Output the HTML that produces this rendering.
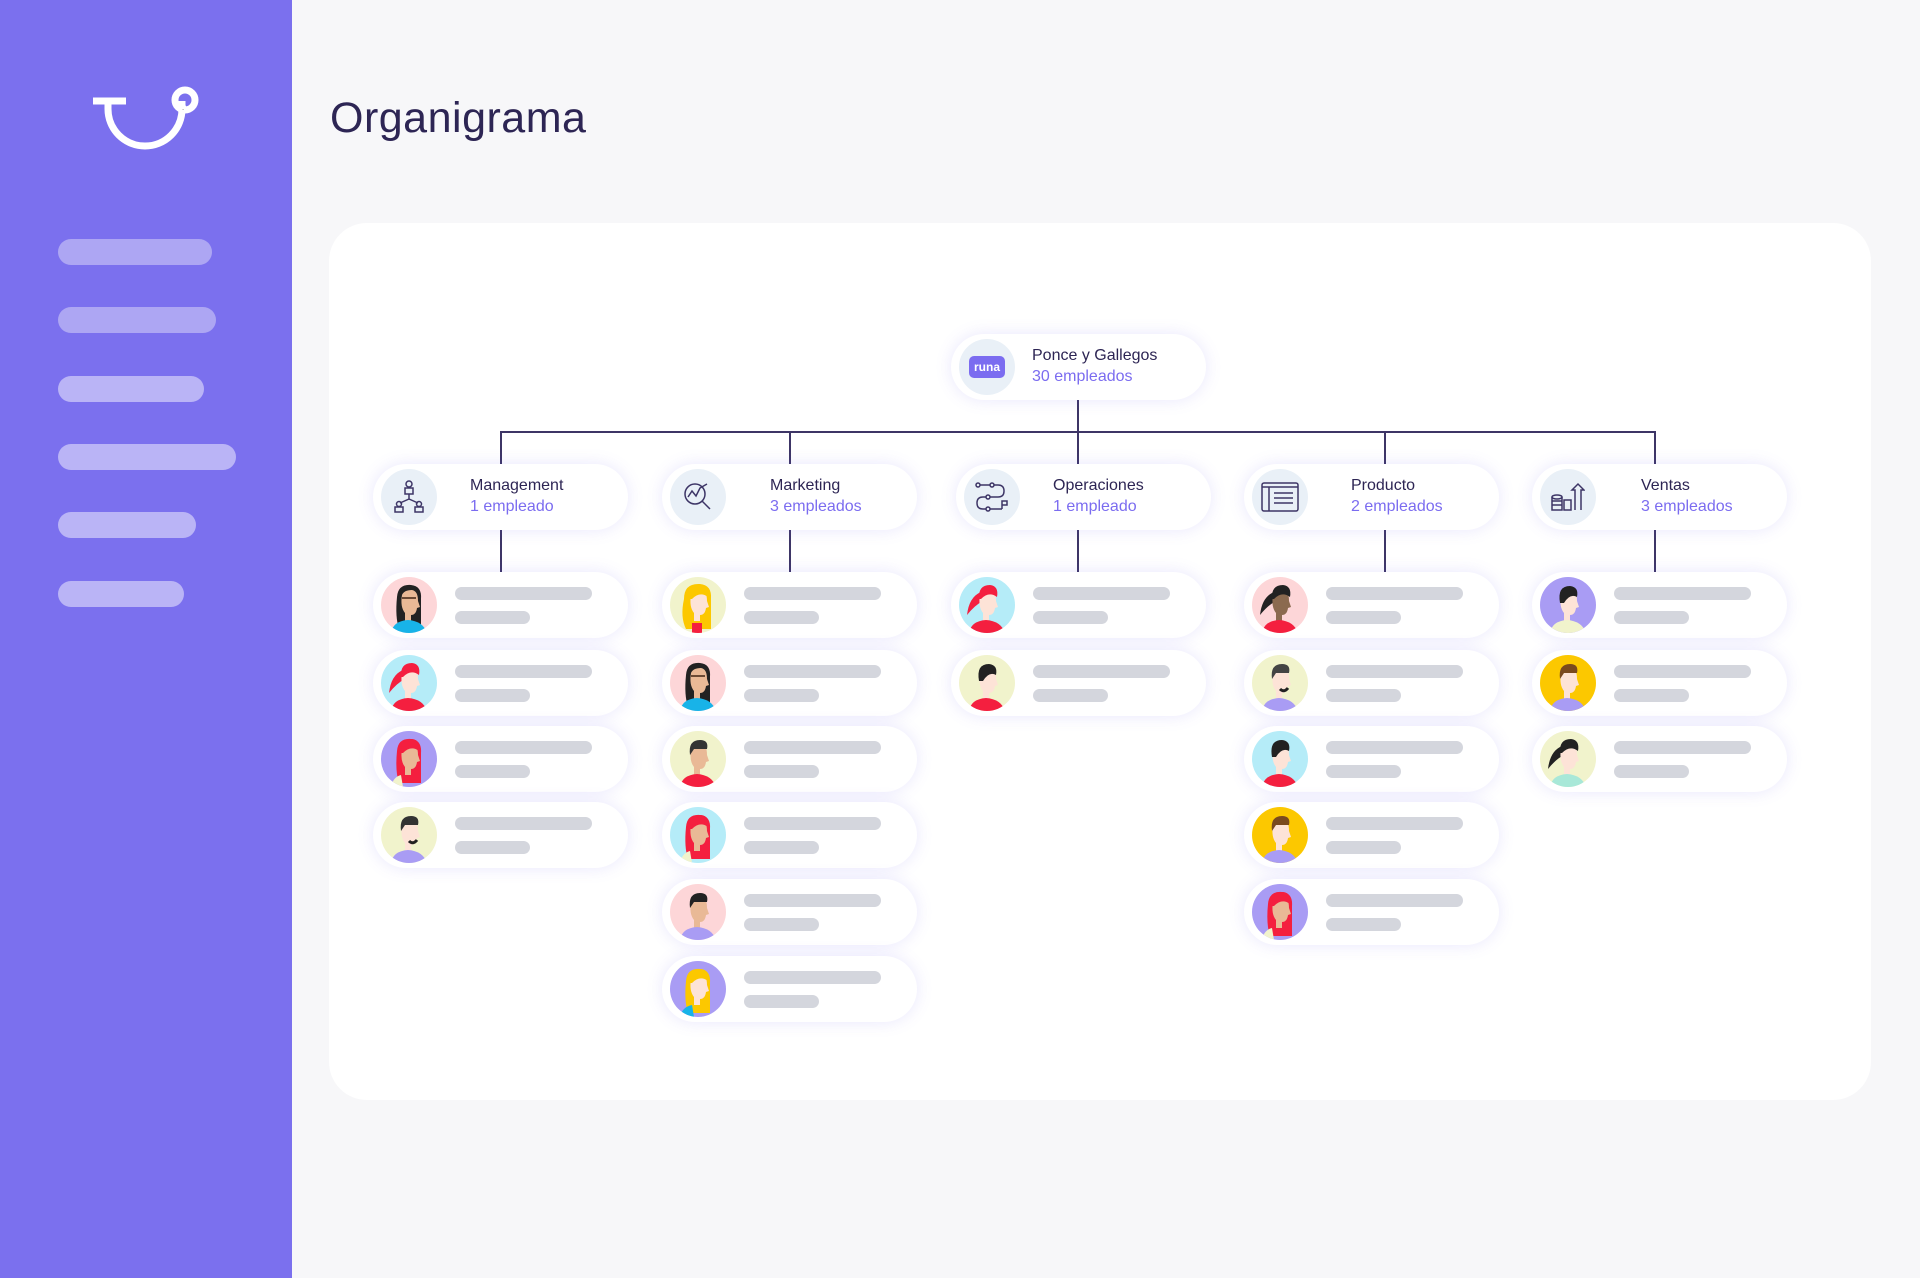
<!DOCTYPE html>
<html><head><meta charset="utf-8"><style>
*{margin:0;padding:0;box-sizing:border-box}
body{width:1920px;height:1278px;background:#f7f7f9;position:relative;overflow:hidden;font-family:"Liberation Sans",sans-serif}
.side{position:absolute;left:0;top:0;width:292px;height:1278px;background:#7b70ee}
.nb{position:absolute;left:58px;height:26px;border-radius:13px}
h1{position:absolute;left:330px;top:94px;font-size:43px;font-weight:400;color:#2d2554;letter-spacing:.5px}
.card{position:absolute;left:329px;top:223px;width:1542px;height:877px;background:#fff;border-radius:38px}
.n{position:absolute;height:66px;width:255px;background:#fff;border-radius:33px;box-shadow:0 0 16px rgba(120,105,240,.16)}
.ic{position:absolute;left:8px;top:5px;width:56px;height:56px;border-radius:50%;background:#e9f0f7;display:flex;align-items:center;justify-content:center}
.t{position:absolute;font-size:16px;line-height:20px;color:#2d2554;white-space:nowrap}
.t span{display:block;color:#7b6cf0;margin-top:1px}
.ln{position:absolute;background:#3d3566}
.av{position:absolute;left:8px;top:5px;width:56px;height:56px;border-radius:50%;overflow:hidden}
.av svg{display:block}
.b1,.b2{position:absolute;left:82px;height:13px;border-radius:7px;background:#d4d6dd}
.b1{top:15px;width:137px}.b2{top:39px;width:75px}
</style></head><body>
<div class="side">
<svg style="position:absolute;left:88px;top:84px" width="115" height="72" viewBox="0 0 115 72">
<path d="M5 17 H38 M20 17 V25 A37 37 0 0 0 94 25 V17" fill="none" stroke="#fff" stroke-width="7"/>
<circle cx="97" cy="16" r="10" fill="none" stroke="#fff" stroke-width="7"/>
<path d="M94 25 Q95 22 96 26" stroke="#fff" stroke-width="7"/>
</svg>
<div class="nb" style="top:239px;width:154px;background:#ada6f3"></div>
<div class="nb" style="top:307px;width:158px;background:#ada6f3"></div>
<div class="nb" style="top:376px;width:146px;background:#bab4f6"></div>
<div class="nb" style="top:444px;width:178px;background:#bab4f6"></div>
<div class="nb" style="top:512px;width:138px;background:#bab4f6"></div>
<div class="nb" style="top:581px;width:126px;background:#bab4f6"></div>
</div>
<h1>Organigrama</h1>
<div class="card"></div>

<div class="ln" style="left:1077px;top:399px;width:2px;height:66px"></div>
<div class="ln" style="left:500px;top:431px;width:1156px;height:2px"></div>
<div class="ln" style="left:500px;top:431px;width:2px;height:34px"></div>
<div class="ln" style="left:789px;top:431px;width:2px;height:34px"></div>
<div class="ln" style="left:1384px;top:431px;width:2px;height:34px"></div>
<div class="ln" style="left:1654px;top:431px;width:2px;height:34px"></div>
<div class="ln" style="left:500px;top:530px;width:2px;height:42px"></div>
<div class="ln" style="left:789px;top:530px;width:2px;height:42px"></div>
<div class="ln" style="left:1077px;top:530px;width:2px;height:42px"></div>
<div class="ln" style="left:1384px;top:530px;width:2px;height:42px"></div>
<div class="ln" style="left:1654px;top:530px;width:2px;height:42px"></div>

<div class="n" style="left:951px;top:334px">
<div class="ic"><div style="width:36px;height:22px;background:#7b6cf0;border-radius:5px;color:#fff;font-size:12px;font-weight:bold;line-height:22px;text-align:center">runa</div></div>
<div class="t" style="left:81px;top:12px">Ponce y Gallegos<span>30 empleados</span></div>
</div>

<div class="n" style="left:373px;top:464px">
<div class="ic"><svg width="34" height="34" viewBox="0 0 34 34" fill="none" stroke="#3d3566" stroke-width="1.5"><circle cx="17" cy="4" r="3"/><rect x="13" y="8" width="8" height="6"/><path d="M17 14V19M17 19L8 23M17 19L26 23"/><circle cx="7" cy="24" r="2.5"/><rect x="3" y="27" width="8" height="5"/><circle cx="27" cy="24" r="2.5"/><rect x="23" y="27" width="8" height="5"/></svg></div>
<div class="t" style="left:97px;top:12px">Management<span>1 empleado</span></div></div>
<div class="n" style="left:662px;top:464px">
<div class="ic"><svg width="34" height="34" viewBox="0 0 34 34" fill="none" stroke="#3d3566" stroke-width="1.5"><circle cx="14" cy="14" r="10"/><path d="M21 21L29 29"/><path d="M7 17L11 11L15 16L19 8L26 4"/></svg></div>
<div class="t" style="left:108px;top:12px">Marketing<span>3 empleados</span></div></div>
<div class="n" style="left:956px;top:464px">
<div class="ic"><svg width="36" height="34" viewBox="0 0 36 34" fill="none" stroke="#3d3566" stroke-width="1.5"><circle cx="4" cy="5" r="2"/><circle cx="18" cy="5" r="2"/><path d="M6 5H16M20 5H24Q30 5 30 11Q30 17 24 17H16"/><circle cx="14" cy="17" r="2"/><path d="M12 17H9Q3 17 3 23Q3 29 9 29H12"/><circle cx="14" cy="29" r="2"/><path d="M16 29H28M28 29V21H33V25H28"/></svg></div>
<div class="t" style="left:97px;top:12px">Operaciones<span>1 empleado</span></div></div>
<div class="n" style="left:1244px;top:464px">
<div class="ic"><svg width="38" height="30" viewBox="0 0 38 30" fill="none" stroke="#3d3566" stroke-width="1.5"><rect x="1" y="1" width="36" height="28" rx="2"/><path d="M1 5H37M8 5V29M13 11H32M13 16H32M13 21H32"/></svg></div>
<div class="t" style="left:107px;top:12px">Producto<span>2 empleados</span></div></div>
<div class="n" style="left:1532px;top:464px">
<div class="ic"><svg width="34" height="30" viewBox="0 0 34 30" fill="none" stroke="#3d3566" stroke-width="1.5"><ellipse cx="6" cy="15" rx="5" ry="2"/><path d="M1 15V28H11V15M1 19H11M1 23H11"/><rect x="13" y="18" width="7" height="10"/><path d="M24 28V8H21L27 2L33 8H30V28"/></svg></div>
<div class="t" style="left:109px;top:12px">Ventas<span>3 empleados</span></div></div>

<div class="n" style="left:373px;top:572px"><div class="av" style="background:#fdd6d8"><svg width="56" height="56" viewBox="0 0 56 56"><path d="M16 20Q17 7 30 8Q41 9 40 22V52H18Q14 40 16 20Z" fill="#222"/><path d="M21 18Q23 13 31 13Q37 14 37 24L39 30L36 31Q35 38 30 38V44H24V36Q19 30 21 18Z" fill="#e9b996"/><path d="M21 21H35" stroke="#6b4a35" stroke-width="2"/><path d="M10 56Q12 44 27 43Q42 44 46 56Z" fill="#18b3e8"/></svg></div><div class="b1"></div><div class="b2"></div></div>
<div class="n" style="left:373px;top:650px"><div class="av" style="background:#b5ecf8"><svg width="56" height="56" viewBox="0 0 56 56"><path d="M22 15Q10 20 8 38Q16 28 24 24Z" fill="#f41f3f"/><path d="M21 18Q23 12 31 12Q37 13 37 24L39 30L36 31Q35 38 30 38V44H24V36Q19 30 21 18Z" fill="#fde3d7"/><path d="M20 22Q19 8 31 8Q40 9 38 20Q30 14 22 22Z" fill="#f41f3f"/><path d="M10 56Q12 44 27 43Q42 44 46 56Z" fill="#f41f3f"/></svg></div><div class="b1"></div><div class="b2"></div></div>
<div class="n" style="left:373px;top:726px"><div class="av" style="background:#a99cf4"><svg width="56" height="56" viewBox="0 0 56 56"><path d="M16 20Q17 7 30 8Q41 9 40 22V52H18Q14 40 16 20Z" fill="#f41f3f"/><path d="M21 18Q23 13 31 13Q37 14 37 24L39 30L36 31Q35 38 30 38V44H24V36Q19 30 21 18Z" fill="#e9b996"/><path d="M20 22Q19 8 31 8Q40 9 38 20Q30 14 22 22Z" fill="#f41f3f"/><path d="M10 56Q12 46 20 44L22 56Z" fill="#f1f3cc"/></svg></div><div class="b1"></div><div class="b2"></div></div>
<div class="n" style="left:373px;top:802px"><div class="av" style="background:#f1f3cc"><svg width="56" height="56" viewBox="0 0 56 56"><path d="M21 18Q23 12 31 12Q37 13 37 24L39 30L36 31Q35 38 30 38V44H24V36Q19 30 21 18Z" fill="#fde3d7"/><path d="M20 24Q18 9 30 9Q39 9 37 18L24 18Z" fill="#333"/><path d="M28 34Q32 38 36 33" stroke="#222" stroke-width="3" fill="none"/><path d="M10 56Q12 44 27 43Q42 44 46 56Z" fill="#a99cf4"/></svg></div><div class="b1"></div><div class="b2"></div></div>

<div class="n" style="left:662px;top:572px"><div class="av" style="background:#f1f3cc"><svg width="56" height="56" viewBox="0 0 56 56"><path d="M14 22Q14 6 30 7Q42 8 41 22V52H16Q10 40 14 22Z" fill="#fcc800"/><path d="M21 18Q23 13 31 13Q37 14 37 24L39 30L36 31Q35 38 30 38V44H24V36Q19 30 21 18Z" fill="#fde3d7"/><path d="M20 22Q19 8 31 8Q40 9 38 20Q30 14 22 22Z" fill="#fcc800"/><path d="M22 56V46H32V56Z" fill="#f41f3f"/></svg></div><div class="b1"></div><div class="b2"></div></div>
<div class="n" style="left:662px;top:650px"><div class="av" style="background:#fdd6d8"><svg width="56" height="56" viewBox="0 0 56 56"><path d="M16 20Q17 7 30 8Q41 9 40 22V52H18Q14 40 16 20Z" fill="#222"/><path d="M21 18Q23 13 31 13Q37 14 37 24L39 30L36 31Q35 38 30 38V44H24V36Q19 30 21 18Z" fill="#e9b996"/><path d="M21 21H35" stroke="#6b4a35" stroke-width="2"/><path d="M10 56Q12 44 27 43Q42 44 46 56Z" fill="#18b3e8"/></svg></div><div class="b1"></div><div class="b2"></div></div>
<div class="n" style="left:662px;top:726px"><div class="av" style="background:#f1f3cc"><svg width="56" height="56" viewBox="0 0 56 56"><path d="M21 18Q23 12 31 12Q37 13 37 24L39 30L36 31Q35 38 30 38V44H24V36Q19 30 21 18Z" fill="#e9b996"/><path d="M20 24Q18 9 30 9Q39 9 37 18L24 18Z" fill="#333"/><path d="M10 56Q12 44 27 43Q42 44 46 56Z" fill="#f41f3f"/></svg></div><div class="b1"></div><div class="b2"></div></div>
<div class="n" style="left:662px;top:802px"><div class="av" style="background:#b5ecf8"><svg width="56" height="56" viewBox="0 0 56 56"><path d="M16 20Q17 7 30 8Q41 9 40 22V52H18Q14 40 16 20Z" fill="#f41f3f"/><path d="M21 18Q23 13 31 13Q37 14 37 24L39 30L36 31Q35 38 30 38V44H24V36Q19 30 21 18Z" fill="#e9b996"/><path d="M20 22Q19 8 31 8Q40 9 38 20Q30 14 22 22Z" fill="#f41f3f"/><path d="M10 56Q12 46 20 44L22 56Z" fill="#f1f3cc"/></svg></div><div class="b1"></div><div class="b2"></div></div>
<div class="n" style="left:662px;top:879px"><div class="av" style="background:#fdd6d8"><svg width="56" height="56" viewBox="0 0 56 56"><path d="M21 18Q23 12 31 12Q37 13 37 24L39 30L36 31Q35 38 30 38V44H24V36Q19 30 21 18Z" fill="#e9b996"/><path d="M20 24Q18 9 30 9Q39 9 37 18L24 18Z" fill="#222"/><path d="M10 56Q12 44 27 43Q42 44 46 56Z" fill="#a99cf4"/></svg></div><div class="b1"></div><div class="b2"></div></div>
<div class="n" style="left:662px;top:956px"><div class="av" style="background:#a99cf4"><svg width="56" height="56" viewBox="0 0 56 56"><path d="M16 20Q17 7 30 8Q41 9 40 22V52H18Q14 40 16 20Z" fill="#fcc800"/><path d="M21 18Q23 13 31 13Q37 14 37 24L39 30L36 31Q35 38 30 38V44H24V36Q19 30 21 18Z" fill="#fde3d7"/><path d="M20 22Q19 8 31 8Q40 9 38 20Q30 14 22 22Z" fill="#fcc800"/><path d="M10 56Q12 46 22 44L24 56Z" fill="#18b3e8"/></svg></div><div class="b1"></div><div class="b2"></div></div>

<div class="n" style="left:951px;top:572px"><div class="av" style="background:#b5ecf8"><svg width="56" height="56" viewBox="0 0 56 56"><path d="M22 15Q10 20 8 38Q16 28 24 24Z" fill="#f41f3f"/><path d="M21 18Q23 12 31 12Q37 13 37 24L39 30L36 31Q35 38 30 38V44H24V36Q19 30 21 18Z" fill="#fde3d7"/><path d="M20 22Q19 8 31 8Q40 9 38 20Q30 14 22 22Z" fill="#f41f3f"/><path d="M10 56Q12 44 27 43Q42 44 46 56Z" fill="#f41f3f"/></svg></div><div class="b1"></div><div class="b2"></div></div>
<div class="n" style="left:951px;top:650px"><div class="av" style="background:#f1f3cc"><svg width="56" height="56" viewBox="0 0 56 56"><path d="M21 18Q23 12 31 12Q37 13 37 24L39 30L36 31Q35 38 30 38V44H24V36Q19 30 21 18Z" fill="#fde3d7"/><path d="M20 26Q17 9 30 9Q39 10 37 20Q30 16 24 26Z" fill="#222"/><path d="M10 56Q12 44 27 43Q42 44 46 56Z" fill="#f41f3f"/></svg></div><div class="b1"></div><div class="b2"></div></div>

<div class="n" style="left:1244px;top:572px"><div class="av" style="background:#fdd6d8"><svg width="56" height="56" viewBox="0 0 56 56"><path d="M22 15Q10 20 8 38Q16 28 24 24Z" fill="#222"/><path d="M21 18Q23 12 31 12Q37 13 37 24L39 30L36 31Q35 38 30 38V44H24V36Q19 30 21 18Z" fill="#8b6a4f"/><path d="M20 22Q19 8 31 8Q40 9 38 20Q30 14 22 22Z" fill="#222"/><path d="M10 56Q12 44 27 43Q42 44 46 56Z" fill="#f41f3f"/></svg></div><div class="b1"></div><div class="b2"></div></div>
<div class="n" style="left:1244px;top:650px"><div class="av" style="background:#f1f3cc"><svg width="56" height="56" viewBox="0 0 56 56"><path d="M21 18Q23 12 31 12Q37 13 37 24L39 30L36 31Q35 38 30 38V44H24V36Q19 30 21 18Z" fill="#fde3d7"/><path d="M20 24Q18 9 30 9Q39 9 37 18L24 18Z" fill="#444"/><path d="M28 34Q32 38 36 33" stroke="#222" stroke-width="3" fill="none"/><path d="M10 56Q12 44 27 43Q42 44 46 56Z" fill="#a99cf4"/></svg></div><div class="b1"></div><div class="b2"></div></div>
<div class="n" style="left:1244px;top:726px"><div class="av" style="background:#b5ecf8"><svg width="56" height="56" viewBox="0 0 56 56"><path d="M21 18Q23 12 31 12Q37 13 37 24L39 30L36 31Q35 38 30 38V44H24V36Q19 30 21 18Z" fill="#fde3d7"/><path d="M20 26Q17 9 30 9Q39 10 37 20Q30 16 24 26Z" fill="#222"/><path d="M10 56Q12 44 27 43Q42 44 46 56Z" fill="#f41f3f"/></svg></div><div class="b1"></div><div class="b2"></div></div>
<div class="n" style="left:1244px;top:802px"><div class="av" style="background:#fcc800"><svg width="56" height="56" viewBox="0 0 56 56"><path d="M21 18Q23 12 31 12Q37 13 37 24L39 30L36 31Q35 38 30 38V44H24V36Q19 30 21 18Z" fill="#fde3d7"/><path d="M20 24Q18 9 30 9Q39 9 37 18L24 18Z" fill="#7a4a1e"/><path d="M10 56Q12 44 27 43Q42 44 46 56Z" fill="#a99cf4"/></svg></div><div class="b1"></div><div class="b2"></div></div>
<div class="n" style="left:1244px;top:879px"><div class="av" style="background:#a99cf4"><svg width="56" height="56" viewBox="0 0 56 56"><path d="M16 20Q17 7 30 8Q41 9 40 22V52H18Q14 40 16 20Z" fill="#f41f3f"/><path d="M21 18Q23 13 31 13Q37 14 37 24L39 30L36 31Q35 38 30 38V44H24V36Q19 30 21 18Z" fill="#e9b996"/><path d="M20 22Q19 8 31 8Q40 9 38 20Q30 14 22 22Z" fill="#f41f3f"/><path d="M10 56Q12 46 20 44L22 56Z" fill="#f1f3cc"/></svg></div><div class="b1"></div><div class="b2"></div></div>

<div class="n" style="left:1532px;top:572px"><div class="av" style="background:#a99cf4"><svg width="56" height="56" viewBox="0 0 56 56"><path d="M21 18Q23 12 31 12Q37 13 37 24L39 30L36 31Q35 38 30 38V44H24V36Q19 30 21 18Z" fill="#fde3d7"/><path d="M20 26Q17 9 30 9Q39 10 37 20Q30 16 24 26Z" fill="#222"/><path d="M10 56Q12 44 27 43Q42 44 46 56Z" fill="#f1f3cc"/></svg></div><div class="b1"></div><div class="b2"></div></div>
<div class="n" style="left:1532px;top:650px"><div class="av" style="background:#fcc800"><svg width="56" height="56" viewBox="0 0 56 56"><path d="M21 18Q23 12 31 12Q37 13 37 24L39 30L36 31Q35 38 30 38V44H24V36Q19 30 21 18Z" fill="#fde3d7"/><path d="M20 24Q18 9 30 9Q39 9 37 18L24 18Z" fill="#7a4a1e"/><path d="M10 56Q12 44 27 43Q42 44 46 56Z" fill="#a99cf4"/></svg></div><div class="b1"></div><div class="b2"></div></div>
<div class="n" style="left:1532px;top:726px"><div class="av" style="background:#f1f3cc"><svg width="56" height="56" viewBox="0 0 56 56"><path d="M22 15Q10 20 8 38Q16 28 24 24Z" fill="#222"/><path d="M21 18Q23 12 31 12Q37 13 37 24L39 30L36 31Q35 38 30 38V44H24V36Q19 30 21 18Z" fill="#fde3d7"/><path d="M20 22Q19 8 31 8Q40 9 38 20Q30 14 22 22Z" fill="#222"/><path d="M10 56Q12 44 27 43Q42 44 46 56Z" fill="#a8e8d8"/></svg></div><div class="b1"></div><div class="b2"></div></div>
</body></html>
